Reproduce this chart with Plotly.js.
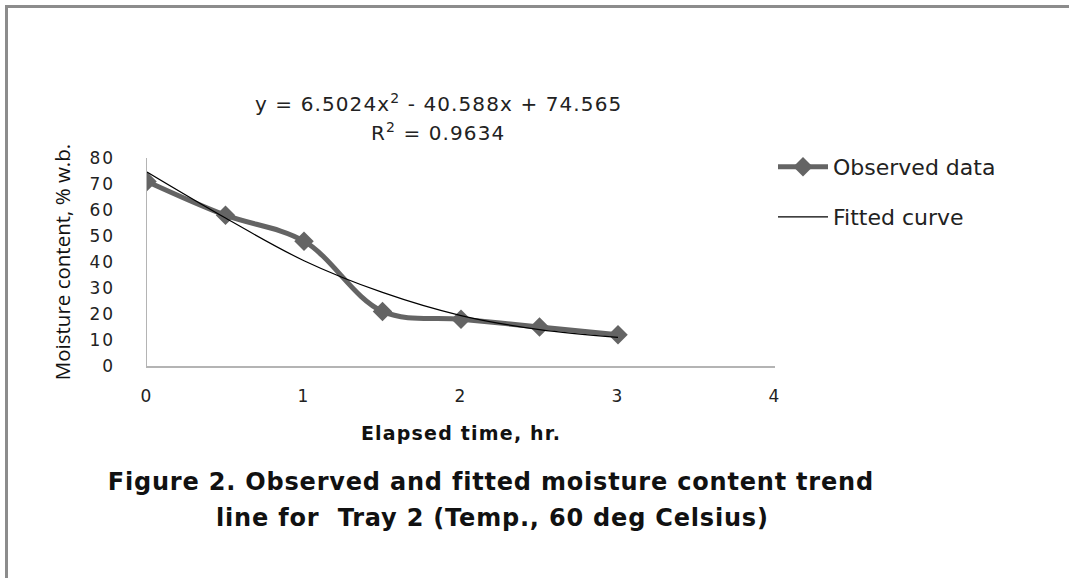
<!DOCTYPE html>
<html>
<head>
<meta charset="utf-8">
<script src="https://cdn.plot.ly/plotly-3.0.1.min.js"></script>
<style>
  html, body { margin: 0; padding: 0; background: #fff; overflow: hidden; }
  #chart { position: absolute; left: 0; top: 0; width: 1069px; height: 578px; }
  #frame { position: absolute; left: 5px; top: 5px; width: 1064px; height: 573px; box-sizing: border-box;
           border-top: 3px solid #8c8c8c; border-left: 3px solid #8c8c8c; pointer-events: none; }
  #chart .xtick text, #chart .ytick text { letter-spacing: 2px; }
  #chart .annotation[data-index="0"] text, #chart .annotation[data-index="1"] text { letter-spacing: 1.1px; }
  #chart .annotation[data-index="2"] text, #chart .annotation[data-index="3"] text { letter-spacing: 0.8px; }
  #chart .g-xtitle text { letter-spacing: 1.2px; }
</style>
</head>
<body>
<div id="chart"></div>
<div id="frame"></div>
<script>
// Elapsed time, hr.
const elapsedTime = [0, 0.5, 1, 1.5, 2, 2.5, 3];
// Observed moisture content, % w.b.
const observedData = [71, 58, 48, 21, 18, 15, 12];
// Fitted curve values
const fittedCurve = [74.6, 56.9, 40.5, 28.3, 19.4, 14.0, 11.0];
const xTicks = [0, 1, 2, 3, 4];
const yTicks = [0, 10, 20, 30, 40, 50, 60, 70, 80];
const seriesNames = ["Observed data", "Fitted curve"];
const equationText = "y = 6.5024x<sup>2</sup> - 40.588x + 74.565";
const r2Text = "R<sup>2</sup> = 0.9634";
const captionLines = ["Figure 2. Observed and fitted moisture content trend", "line for  Tray 2 (Temp., 60 deg Celsius)"];

const calibriLike = "Open Sans, Liberation Sans, sans-serif";
const verdanaLike = "DejaVu Sans, Verdana, sans-serif";

const traces = [
  {
    x: elapsedTime, y: observedData, name: seriesNames[0],
    type: "scatter", mode: "lines+markers",
    line: { color: "#646464", width: 5, shape: "spline", smoothing: 1 },
    marker: { symbol: "diamond", size: 15, color: "#646464" },
    legend: "legend"
  },
  {
    x: elapsedTime, y: fittedCurve, name: seriesNames[1],
    type: "scatter", mode: "lines",
    line: { color: "#000000", width: 1.2, shape: "spline", smoothing: 1 },
    legend: "legend2"
  }
];

const legendCommon = {
  xref: "paper", yref: "paper", xanchor: "left", yanchor: "middle",
  bgcolor: "rgba(0,0,0,0)", borderwidth: 0,
  font: { family: verdanaLike, size: 22, color: "#222" },
  itemwidth: 50
};

const px2x = function (px) { return (px - 147) / 628; };
const py2y = function (py) { return (365.7 - py) / 207.7; };

const layout = {
  width: 1069, height: 578,
  margin: { l: 147, r: 294, t: 158, b: 212, pad: 0 },
  paper_bgcolor: "#ffffff", plot_bgcolor: "#ffffff",
  showlegend: true,
  legend: Object.assign({}, legendCommon, { x: px2x(773), y: py2y(167) }),
  legend2: Object.assign({}, legendCommon, { x: px2x(773), y: py2y(217) }),
  xaxis: {
    range: [0, 4], tickvals: xTicks, ticktext: xTicks.map(String),
    showgrid: false, zeroline: false,
    showline: true, linecolor: "#b4b4b4", linewidth: 1.5,
    ticks: "outside", ticklen: 14, tickcolor: "rgba(0,0,0,0)",
    tickfont: { family: verdanaLike, size: 17, color: "#222" },
    title: { text: "<b>Elapsed time, hr.</b>", font: { family: verdanaLike, size: 19, color: "#111" }, standoff: 22 },
    fixedrange: true
  },
  yaxis: {
    range: [0, 80], tickvals: yTicks, ticktext: yTicks.map(String),
    showgrid: false, zeroline: false,
    showline: true, linecolor: "#b4b4b4", linewidth: 1.5,
    ticks: "outside", ticklen: 27, tickcolor: "rgba(0,0,0,0)",
    tickfont: { family: verdanaLike, size: 17, color: "#222" },
    title: { text: "Moisture content, % w.b.", font: { family: calibriLike, size: 20.5, color: "#111" }, standoff: 17 },
    fixedrange: true
  },
  annotations: [
    {
      text: equationText, xref: "paper", yref: "paper",
      x: px2x(438), y: py2y(103),
      xanchor: "center", yanchor: "middle", showarrow: false,
      font: { family: verdanaLike, size: 20, color: "#222" }
    },
    {
      text: r2Text, xref: "paper", yref: "paper",
      x: px2x(438), y: py2y(132),
      xanchor: "center", yanchor: "middle", showarrow: false,
      font: { family: verdanaLike, size: 20, color: "#222" }
    },
    {
      text: "<b>" + captionLines[0] + "</b>", xref: "paper", yref: "paper",
      x: px2x(491), y: py2y(482),
      xanchor: "center", yanchor: "middle", showarrow: false,
      font: { family: verdanaLike, size: 24, color: "#111" }
    },
    {
      text: "<b>" + captionLines[1] + "</b>", xref: "paper", yref: "paper",
      x: px2x(492), y: py2y(517),
      xanchor: "center", yanchor: "middle", showarrow: false,
      font: { family: verdanaLike, size: 24, color: "#111" }
    }
  ]
};

Plotly.newPlot("chart", traces, layout, { displayModeBar: false, staticPlot: true });
</script>
</body>
</html>
